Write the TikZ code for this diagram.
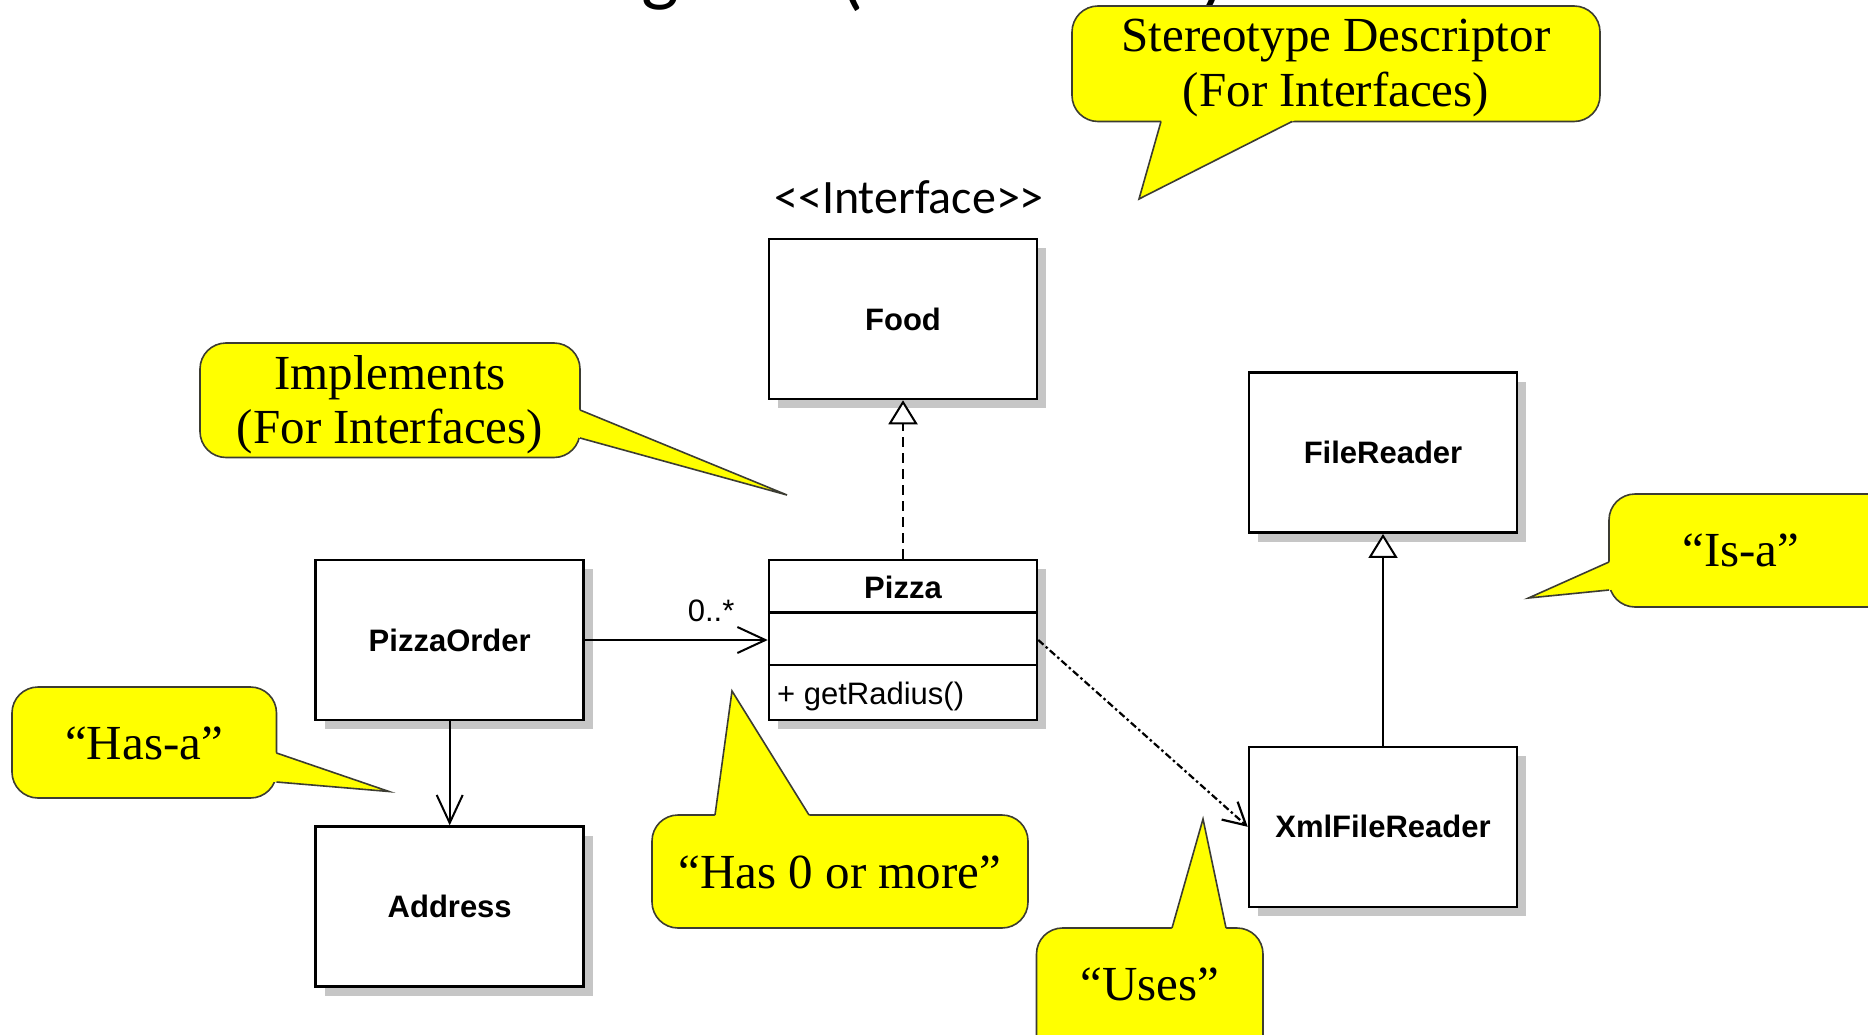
\documentclass[tikz,border=0pt]{standalone}
\usepackage{fontspec}
\setmainfont{Liberation Serif}
\newfontfamily\umlfont{Liberation Sans}
\newfontfamily\slidefont{Carlito}
\usetikzlibrary{arrows.meta,calc,shadows}

\definecolor{noteyellow}{HTML}{FFFF00}
\definecolor{noteline}{HTML}{3C3C32}
\definecolor{boxshade}{HTML}{C6C6C6}

\tikzset{
  classbox/.style={draw=black, line width=2.5pt, fill=white,
    minimum width=268pt, minimum height=160pt, inner sep=0pt,
    font=\umlfont\bfseries\fontsize{31}{31}\selectfont,
    general shadow={fill=boxshade, shadow xshift=9pt, shadow yshift=-9pt}},
  classlabel/.style={inner sep=0pt, font=\umlfont\bfseries\fontsize{31}{31}\selectfont},
  memberlabel/.style={inner sep=0pt, font=\umlfont\fontsize{31}{31}\selectfont},
  divider/.style={draw=black, line width=2.5pt},
  link/.style={draw=black, line width=2pt},
  realizes/.style={link, dash pattern=on 10pt off 6pt,
    -{Triangle[open, fill=white, length=24pt, width=29pt]}},
  inherits/.style={link, -{Triangle[open, fill=white, length=24pt, width=29pt]}},
  navigates/.style={link, -{Straight Barb[length=28pt, width=26pt]}},
  uses/.style={link, line width=2.2pt, dash pattern=on 7pt off 3pt on 2.5pt off 3pt,
    -{Straight Barb[length=22pt, width=24pt]}},
  note/.style={fill=noteyellow, draw=noteline, line width=1.6pt, rounded corners=26pt},
  notetail/.style={draw=noteline, line width=1.6pt, line join=miter},
  notetailfill/.style={fill=noteyellow},
  notetext/.style={inner sep=0pt, anchor=base, font=\fontsize{49}{49}\selectfont},
  headglyph/.style={inner sep=0pt, anchor=south, font=\slidefont\fontsize{80}{80}\selectfont},
}

% tail of a speech bubble: base points #1 and #3 on the bubble edge, tip #2
\newcommand{\notetailat}[3]{%
  \fill[notetailfill] ($(#1)!-4pt!(#2)$) -- (#2) -- ($(#3)!-4pt!(#2)$) -- cycle;
  \draw[notetail] (#1) -- (#2) -- (#3);
}

\begin{document}
\begin{tikzpicture}[x=1pt, y=-1pt]
\useasboundingbox (0,0) rectangle (1868,1035);
\fill[white] (0,0) rectangle (1868,1035);

% slide heading, cut off at the top edge
\node[headglyph] (headg) at (660,10) {g};
\node[headglyph] (headlp) at (852,12) {(};
\node[headglyph] (headrp) at (1214,12) {)};

% classes
\node[classbox] (food) at (903,319) {Food};
\node[inner sep=0pt, anchor=base, font=\slidefont\fontsize{48}{48}\selectfont] (stereo) at (909,214) {<{}<Interface>{}>};

\node[classbox] (pizza) at (903,640) {};
\draw[divider] ($(pizza.north west)+(0,53.5)$) -- ($(pizza.north east)+(0,53.5)$);
\draw[divider] ($(pizza.north west)+(0,106)$) -- ($(pizza.north east)+(0,106)$);
\node[classlabel] (pizzaname) at (903,587) {Pizza};
\node[memberlabel, anchor=base west] (pizzaop) at (777,704) {+ getRadius()};

\node[classbox] (order) at (449.7,640) {PizzaOrder};
\node[classbox] (address) at (449.7,906.6) {Address};
\node[classbox] (reader) at (1383,452.7) {FileReader};
\node[classbox] (xml) at (1383,826.8) {XmlFileReader};

% relationships
\draw[realizes] (pizza.north) -- (food.south);
\draw[inherits] (xml.north) -- (reader.south);
\draw[navigates] (order.east) -- node[memberlabel, pos=0.69, above=17pt] (mult) {0..*} (pizza.west);
\draw[navigates] (order.south) -- (address.north);
\draw[uses] (pizza.east) -- (xml.west);

% speech bubbles
% stereotype descriptor
\draw[note] (1072,6) rectangle (1600,121.5);
\coordinate (stA) at (1161,121.5);
\coordinate (stT) at (1139,199);
\coordinate (stB) at (1292,121.5);
\notetailat{stA}{stT}{stB}
\node[notetext] (stline1) at (1336,52) {Stereotype Descriptor};
\node[notetext] (stline2) at (1336,107) {(For Interfaces)};

% implements
\draw[note] (200,343) rectangle (580,457.5);
\coordinate (imA) at (580,410);
\coordinate (imT) at (787,495);
\coordinate (imB) at (580,438);
\notetailat{imA}{imT}{imB}
\node[notetext] (imline1) at (390,389) {Implements};
\node[notetext] (imline2) at (390,443) {(For Interfaces)};

% has-a
\draw[note] (12,687) rectangle (276.5,798);
\coordinate (haA) at (276.5,753);
\coordinate (haT) at (389,791.5);
\coordinate (haB) at (276.5,782);
\notetailat{haA}{haT}{haB}
\node[notetext] (hatext) at (144,759) {“Has-a”};

% has 0 or more
\draw[note] (652,815) rectangle (1028,928);
\coordinate (hmA) at (715,815);
\coordinate (hmT) at (732,691);
\coordinate (hmB) at (809,815);
\notetailat{hmA}{hmT}{hmB}
\node[notetext] (hmtext) at (840,888) {“Has 0 or more”};

% uses
\draw[note] (1036.5,928) rectangle (1263,1090);
\coordinate (usA) at (1172,928);
\coordinate (usT) at (1203,819);
\coordinate (usB) at (1226,928);
\notetailat{usA}{usT}{usB}
\node[notetext] (ustext) at (1150,1000) {“Uses”};

% is-a
\draw[note] (1609,494) rectangle (1910,607);
\coordinate (isA) at (1609,562);
\coordinate (isT) at (1528.5,598);
\coordinate (isB) at (1609,590);
\notetailat{isA}{isT}{isB}
\node[notetext] (istext) at (1741,566) {“Is-a”};
\end{tikzpicture}
\end{document}
